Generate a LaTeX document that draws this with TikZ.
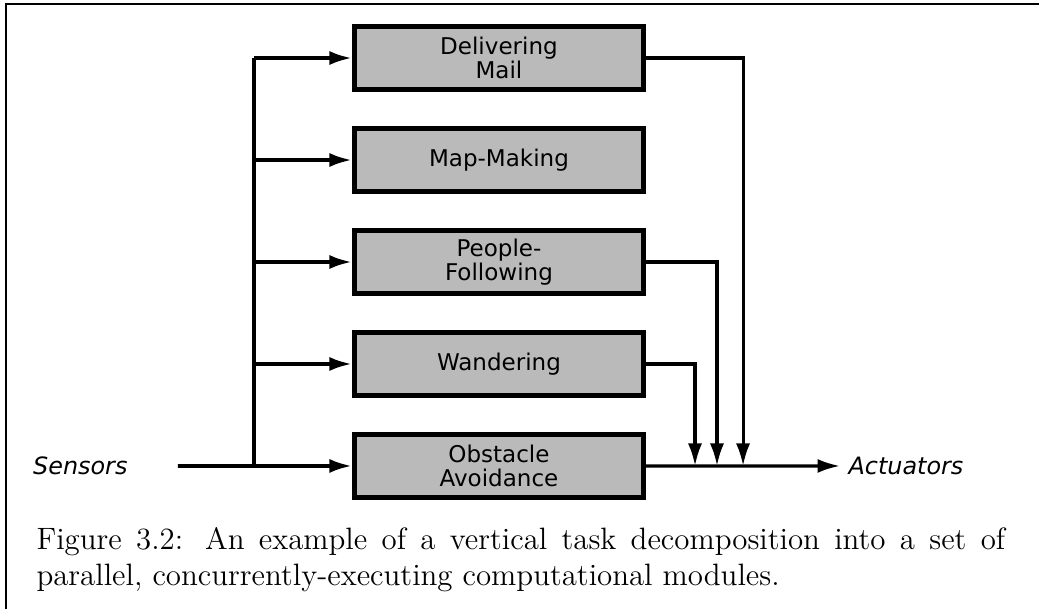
\documentclass[tikz,border=0pt]{standalone}
\usepackage{fontspec}
\newfontfamily\boxfont{DejaVu Sans}
\usepackage{tikz}
\usetikzlibrary{arrows.meta}

\begin{document}
\begin{tikzpicture}[node distance={12.76mm}, >={Latex[length=8pt,width=5pt]},
        main/.style = {draw, rectangle, line width=1.7pt, fill=black!27, minimum width=36.2mm, minimum height=7.9mm, inner sep=0pt, align=center, font=\boxfont\fontsize{8.2}{8.6}\selectfont},
        side/.style = {inner sep=0pt, font=\boxfont\itshape\fontsize{8.5}{10}\selectfont},
        wire/.style = {line width=1.3pt},
        outwire/.style = {line width=1.1pt}]
        \useasboundingbox (0,0) rectangle (13,-7.62);
        \draw[line width=0.7pt] (0.075,-7.62) |- (13,-0.05);

        \node[main] (mail) at (6.243,-0.726) {Delivering\\Mail};
        \node[main] (map) [below of=mail] {Map-Making};
        \node[main] (follow) [below of=map] {People-\\Following};
        \node[main] (wander) [below of=follow] {Wandering};
        \node[main] (avoid) [below of=wander] {Obstacle\\Avoidance};

        \node[side, anchor=east] (sens) at (1.602,-5.83) {Sensors};
        \node[side, anchor=west] (act) at (10.61,-5.83) {Actuators};

        \coordinate (split) at (3.178,-5.83);
        \coordinate (in1) at (8.696,-5.83);
        \coordinate (in2) at (8.971,-5.83);
        \coordinate (in3) at (9.297,-5.83);

        % inputs
        \draw[wire, ->, shorten <=6.25mm] (sens) -- (avoid);
        \draw[wire] (split) -- (split |- mail);
        \foreach \n in {mail, map, follow, wander}
            \draw[wire, ->] (split |- \n) -- (\n);

        % outputs
        \draw[outwire, ->] (wander) -| (in1);
        \draw[outwire, ->] (follow) -| (in2);
        \draw[outwire, ->] (mail) -| (in3);
        \draw[outwire, ->, shorten >=1mm] (avoid) -- (act);

        \node[anchor=north west, inner sep=0pt, text width=121.2mm, align=justify, font=\fontsize{11}{12.8}\selectfont] (cap) at (0.45,-6.59) {Figure 3.2: An example of a vertical task decomposition into a set of parallel, concurrently-executing computational modules.};
\end{tikzpicture}
\end{document}
